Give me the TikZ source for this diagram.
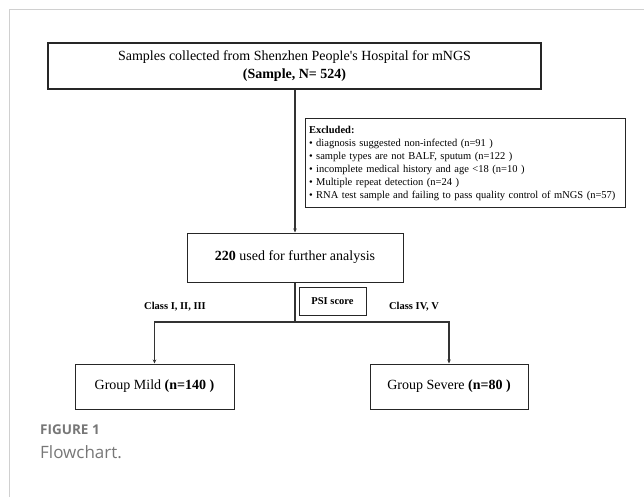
\documentclass[tikz,border=0pt]{standalone}
\usepackage{fontspec}
\setmainfont{Liberation Serif}[Ligatures=TeXOff]
\newfontfamily\capfont{Open Sans}
\usetikzlibrary{arrows.meta}
\definecolor{capgray}{HTML}{777777}
\definecolor{framegray}{HTML}{D0D0D0}
\begin{document}
\begin{tikzpicture}[x=1pt,y=-1pt,
  box/.style={draw=black!85, line width=1pt, inner sep=0pt, align=center},
  conn/.style={draw=black!80, line width=1.1pt},
  arr/.style={conn, -{Stealth[length=4pt,width=3.5pt]}},
  maintext/.style={font=\fontsize{14}{18}\selectfont},
  smalltext/.style={font=\fontsize{10.5}{13}\selectfont}]
\useasboundingbox (0,0) rectangle (644,497);
\draw[framegray, line width=0.8pt] (9,497) -- (9,9) -- (644,9);

\node[box, line width=1.3pt, minimum width=493pt, minimum height=46pt, maintext] (top) at (294.5,66)
  {Samples collected from Shenzhen People's Hospital for mNGS\\ \textbf{(Sample, N= 524)}};

\node[box, minimum width=320pt, minimum height=88pt, text width=312pt, align=left, smalltext] (excl) at (465,163)
  {\textbf{Excluded:}\\
   • diagnosis suggested non-infected (n=91 )\\
   • sample types are not BALF, sputum (n=122 )\\
   • incomplete medical history and age <18 (n=10 )\\
   • Multiple repeat detection (n=24 )\\
   • RNA test sample and failing to pass quality control of mNGS (n=57)};

\node[box, minimum width=216pt, minimum height=49pt, maintext] (mid) at (295,257.5)
  {\textbf{220} used for further analysis};

\node[box, minimum width=67pt, minimum height=28pt, smalltext] (psi) at (332.5,301) {\textbf{PSI score}};

\coordinate (split) at (295,322);

\node[smalltext] (cl1) at (175,307) {\textbf{Class I, II, III}};
\node[smalltext] (cl2) at (414,307) {\textbf{Class IV, V}};

\node[box, minimum width=159pt, minimum height=45pt, maintext] (mild) at (154.5,386.5)
  {Group Mild \textbf{(n=140 )}};
\node[box, minimum width=158pt, minimum height=45pt, maintext] (severe) at (449,386.5)
  {Group Severe \textbf{(n=80 )}};

\draw[arr] (top.south -| mid.north) -- (mid.north);
\draw[conn] (mid.south) -- (split);
\draw[arr] (split) -| (mild.north);
\draw[arr] (split) -| (severe.north);

\node[anchor=west, inner sep=0pt, text=capgray, font=\capfont\fontsize{13.5}{15}\selectfont\bfseries] (fig) at (40,430) {FIGURE 1};
\node[anchor=west, inner sep=0pt, text=capgray, font=\capfont\fontsize{17}{19}\selectfont] (cap) at (40,452) {Flowchart.};
\end{tikzpicture}
\end{document}
